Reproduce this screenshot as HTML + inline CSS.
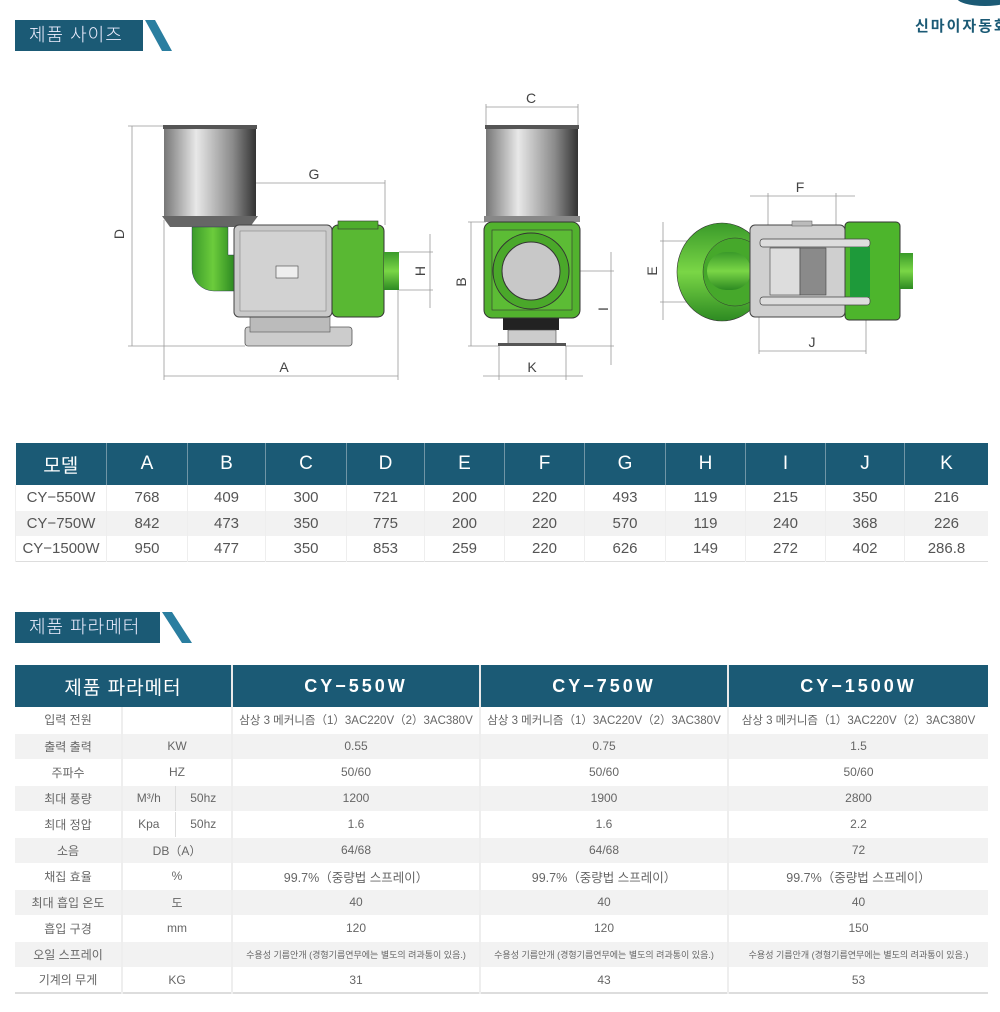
<!DOCTYPE html>
<html><head><meta charset="utf-8"><style>
*{margin:0;padding:0;box-sizing:border-box}
body{width:1000px;height:1012px;background:#fff;position:relative;overflow:hidden;font-family:"Liberation Sans","Noto Sans CJK KR",sans-serif;color:#555}
.hd{position:absolute;background:#1b5a75;color:#eef;font-size:18px;line-height:30px;padding-left:14px;letter-spacing:1px;font-weight:300}
table{position:absolute;border-collapse:collapse;table-layout:fixed}
td{text-align:center;padding:0;overflow:hidden;white-space:nowrap}
#t1 th{background:#1b5a75;color:#fff;font-weight:normal;font-size:19px;height:42px;border-left:1px solid #6f95a6}
#t1 td{height:25.5px;font-size:15px;color:#555;border-left:1px solid #eee}
#t1 tr.g td{background:#f2f2f2}
#t1{border-bottom:1px solid #ddd}
#t2 th{background:#1b5a75;color:#fff;font-size:18px;height:42px;border-left:2px solid #eaeaea}
#t2 td{height:26px;font-size:12px;color:#666;border-left:2px solid #eee;border-bottom:1px solid #fff}
#t2 tr.g td{background:#f2f2f2}
#t2{border-bottom:2px solid #ddd}
</style></head><body>
<div class="hd" style="left:15px;top:20px;width:128px;height:31px">제품 사이즈</div>
<svg style="position:absolute;left:0;top:0" width="1000" height="60"><polygon points="145,20 155,20 172,51 162,51" fill="#2a7ea0"/><ellipse cx="985" cy="-2" rx="28" ry="8" fill="#1b5a75"/></svg>
<div style="position:absolute;left:915px;top:15px;font-size:15px;font-weight:bold;color:#1b5a75;white-space:nowrap;letter-spacing:2px">신마이자동화</div>

<svg style="position:absolute;left:0;top:0" width="1000" height="420" font-family="Liberation Sans, sans-serif" font-size="14" fill="#444">
<defs>
<linearGradient id="cyl" x1="0" x2="1"><stop offset="0" stop-color="#777"/><stop offset=".35" stop-color="#e8e8e8"/><stop offset=".75" stop-color="#8a8a8a"/><stop offset="1" stop-color="#333"/></linearGradient>
<linearGradient id="grn" x1="0" x2="1"><stop offset="0" stop-color="#3a9a2a"/><stop offset=".5" stop-color="#6ccc3c"/><stop offset="1" stop-color="#2d8a22"/></linearGradient>
<linearGradient id="grnv" x1="0" y1="0" x2="0" y2="1"><stop offset="0" stop-color="#3a9a2a"/><stop offset=".5" stop-color="#7ad646"/><stop offset="1" stop-color="#2d8a22"/></linearGradient>
</defs>
<g stroke="#999" stroke-width="0.8" fill="none">
<line x1="132" y1="126" x2="132" y2="346"/><line x1="128" y1="126" x2="164" y2="126"/><line x1="128" y1="346" x2="245" y2="346"/>
<line x1="164" y1="376" x2="398" y2="376"/><line x1="164" y1="220" x2="164" y2="380"/><line x1="398" y1="290" x2="398" y2="380"/>
<line x1="240" y1="183" x2="385" y2="183"/><line x1="385" y1="180" x2="385" y2="225"/>
<line x1="430" y1="234" x2="430" y2="308"/><line x1="399" y1="252" x2="433" y2="252"/><line x1="399" y1="290" x2="433" y2="290"/>
<line x1="486" y1="107" x2="578" y2="107"/><line x1="486" y1="104" x2="486" y2="126"/><line x1="578" y1="104" x2="578" y2="126"/>
<line x1="471" y1="222" x2="471" y2="346"/><line x1="468" y1="222" x2="486" y2="222"/><line x1="468" y1="346" x2="498" y2="346"/>
<line x1="611" y1="252" x2="611" y2="365"/><line x1="531" y1="271" x2="614" y2="271"/><line x1="565" y1="346" x2="614" y2="346"/>
<line x1="483" y1="376" x2="583" y2="376"/><line x1="499" y1="346" x2="499" y2="380"/><line x1="566" y1="346" x2="566" y2="380"/>
<line x1="750" y1="196" x2="855" y2="196"/><line x1="768" y1="193" x2="768" y2="240"/><line x1="836" y1="193" x2="836" y2="240"/>
<line x1="759" y1="351" x2="866" y2="351"/><line x1="759" y1="310" x2="759" y2="354"/><line x1="866" y1="310" x2="866" y2="354"/>
<line x1="663" y1="222" x2="663" y2="320"/><line x1="660" y1="241" x2="760" y2="241"/><line x1="660" y1="302" x2="760" y2="302"/>
</g>
<text x="284" y="372" text-anchor="middle">A</text>
<text x="314" y="179" text-anchor="middle">G</text>
<text x="531" y="103" text-anchor="middle">C</text>
<text x="532" y="372" text-anchor="middle">K</text>
<text x="800" y="192" text-anchor="middle">F</text>
<text x="812" y="347" text-anchor="middle">J</text>
<text transform="translate(124,234) rotate(-90)" text-anchor="middle">D</text>
<text transform="translate(425,271) rotate(-90)" text-anchor="middle">H</text>
<text transform="translate(466,282) rotate(-90)" text-anchor="middle">B</text>
<text transform="translate(608,309) rotate(-90)" text-anchor="middle">I</text>
<text transform="translate(657,271) rotate(-90)" text-anchor="middle">E</text>

<rect x="164" y="126" width="92" height="92" fill="url(#cyl)"/>
<rect x="163" y="125" width="94" height="4" fill="#555"/>
<polygon points="162,216 258,216 250,227 170,227" fill="#666"/>
<path d="M192,227 h36 v28 h6 v36 h-20 a22,22 0 0 1 -22,-22 z" fill="url(#grn)" stroke="#225" stroke-width=".4"/>
<rect x="245" y="327" width="107" height="19" rx="3" fill="#ccc" stroke="#555" stroke-width=".8"/>
<rect x="250" y="314" width="80" height="18" fill="#bbb" stroke="#555" stroke-width=".6"/>
<rect x="234" y="225" width="98" height="92" rx="5" fill="#c9c9c9" stroke="#444" stroke-width="1"/>
<rect x="240" y="231" width="86" height="80" fill="#d2d2d2" stroke="#777" stroke-width=".5"/>
<rect x="276" y="266" width="22" height="12" fill="#eee" stroke="#444" stroke-width=".6"/>
<rect x="332" y="225" width="52" height="92" rx="6" fill="#59b833" stroke="#333" stroke-width="1"/>
<rect x="338" y="221" width="40" height="8" fill="#4fae2d" stroke="#333" stroke-width=".6"/>
<rect x="384" y="252" width="15" height="38" fill="url(#grnv)"/>
<rect x="486" y="126" width="92" height="92" fill="url(#cyl)"/>
<rect x="485" y="125" width="94" height="4" fill="#555"/>
<rect x="484" y="216" width="96" height="6" fill="#888"/>
<rect x="503" y="316" width="56" height="14" fill="#222"/>
<rect x="508" y="330" width="48" height="14" fill="#ccc" stroke="#444" stroke-width=".6"/>
<rect x="498" y="343" width="68" height="3" fill="#555"/>
<rect x="484" y="222" width="96" height="96" rx="8" fill="#52b22e" stroke="#333" stroke-width="1"/>
<rect x="492" y="230" width="80" height="80" fill="#5cbc35" stroke="#333" stroke-width=".6"/>
<circle cx="531" cy="271" r="38" fill="#4aa82a" stroke="#333" stroke-width="1"/>
<circle cx="531" cy="271" r="29" fill="#c8c8c8" stroke="#333" stroke-width="1"/>
<ellipse cx="722" cy="272" rx="45" ry="49" fill="url(#grnv)" stroke="#333" stroke-width=".6"/>
<ellipse cx="735" cy="272" rx="32" ry="34" fill="#46a82b" stroke="#333" stroke-width=".5"/>
<rect x="707" y="252" width="44" height="38" rx="19" fill="url(#grnv)"/>
<rect x="845" y="222" width="55" height="98" rx="4" fill="#4db52c" stroke="#333" stroke-width="1"/>
<rect x="900" y="253" width="13" height="36" fill="url(#grnv)"/>
<rect x="750" y="225" width="95" height="92" rx="5" fill="#cfcfcf" stroke="#444" stroke-width="1"/>
<rect x="792" y="221" width="20" height="5" fill="#bbb" stroke="#555" stroke-width=".5"/>
<rect x="760" y="239" width="110" height="8" rx="3" fill="#ddd" stroke="#444" stroke-width=".7"/>
<rect x="760" y="297" width="110" height="8" rx="3" fill="#ddd" stroke="#444" stroke-width=".7"/>
<rect x="770" y="248" width="30" height="47" fill="#ddd" stroke="#444" stroke-width=".6"/>
<rect x="800" y="248" width="26" height="47" fill="#8a8a8a" stroke="#444" stroke-width=".6"/>
<rect x="850" y="247" width="20" height="50" fill="#1e9a3a"/>
</svg>

<table id="t1" style="left:15px;top:443px;width:973px">
<colgroup><col style="width:91px"><col style="width:81px"><col style="width:78px"><col style="width:81px"><col style="width:78px"><col style="width:80px"><col style="width:80px"><col style="width:81px"><col style="width:80px"><col style="width:80px"><col style="width:79px"><col></colgroup>
<tr><th style="border-left:none">모델</th><th>A</th><th>B</th><th>C</th><th>D</th><th>E</th><th>F</th><th>G</th><th>H</th><th>I</th><th>J</th><th>K</th></tr>
<tr><td>CY−550W</td><td>768</td><td>409</td><td>300</td><td>721</td><td>200</td><td>220</td><td>493</td><td>119</td><td>215</td><td>350</td><td>216</td></tr>
<tr class="g"><td>CY−750W</td><td>842</td><td>473</td><td>350</td><td>775</td><td>200</td><td>220</td><td>570</td><td>119</td><td>240</td><td>368</td><td>226</td></tr>
<tr><td>CY−1500W</td><td>950</td><td>477</td><td>350</td><td>853</td><td>259</td><td>220</td><td>626</td><td>149</td><td>272</td><td>402</td><td>286.8</td></tr>
</table>

<div class="hd" style="left:15px;top:612px;width:145px;height:31px">제품 파라메터</div>
<svg style="position:absolute;left:0;top:600px" width="220" height="50"><polygon points="162,12 172,12 192,43 182,43" fill="#2a7ea0"/></svg>

<table id="t2" style="left:15px;top:665px;width:973px">
<colgroup><col style="width:107px"><col style="width:53px"><col style="width:57px"><col style="width:248px"><col style="width:248px"><col></colgroup>
<tr><th colspan="3" style="border-left:none;font-weight:normal;font-size:19px;letter-spacing:1px">제품 파라메터</th><th style="letter-spacing:3px">CY−550W</th><th style="letter-spacing:3px">CY−750W</th><th style="letter-spacing:3px">CY−1500W</th></tr>
<tr><td style="border-left:none">입력 전원</td><td colspan="2"></td><td style="font-size:11.5px">삼상 3 메커니즘（1）3AC220V（2）3AC380V</td><td style="font-size:11.5px">삼상 3 메커니즘（1）3AC220V（2）3AC380V</td><td style="font-size:11.5px">삼상 3 메커니즘（1）3AC220V（2）3AC380V</td></tr>
<tr class="g"><td style="border-left:none">출력 출력</td><td colspan="2">KW</td><td>0.55</td><td>0.75</td><td>1.5</td></tr>
<tr><td style="border-left:none">주파수</td><td colspan="2">HZ</td><td>50/60</td><td>50/60</td><td>50/60</td></tr>
<tr class="g"><td style="border-left:none">최대 풍량</td><td>M³/h</td><td style="border-left:1px solid #ddd">50hz</td><td>1200</td><td>1900</td><td>2800</td></tr>
<tr><td style="border-left:none">최대 정압</td><td>Kpa</td><td style="border-left:1px solid #ddd">50hz</td><td>1.6</td><td>1.6</td><td>2.2</td></tr>
<tr class="g"><td style="border-left:none">소음</td><td colspan="2">DB（A）</td><td>64/68</td><td>64/68</td><td>72</td></tr>
<tr><td style="border-left:none">채집 효율</td><td colspan="2">%</td><td style="font-size:12.5px">99.7%（중량법 스프레이）</td><td style="font-size:12.5px">99.7%（중량법 스프레이）</td><td style="font-size:12.5px">99.7%（중량법 스프레이）</td></tr>
<tr class="g"><td style="border-left:none">최대 흡입 온도</td><td colspan="2">도</td><td>40</td><td>40</td><td>40</td></tr>
<tr><td style="border-left:none">흡입 구경</td><td colspan="2">mm</td><td>120</td><td>120</td><td>150</td></tr>
<tr class="g"><td style="border-left:none">오일 스프레이</td><td colspan="2"></td><td style="font-size:9px">수용성 기름안개 (경형기름연무에는 별도의 려과통이 있음.)</td><td style="font-size:9px">수용성 기름안개 (경형기름연무에는 별도의 려과통이 있음.)</td><td style="font-size:9px">수용성 기름안개 (경형기름연무에는 별도의 려과통이 있음.)</td></tr>
<tr><td style="border-left:none">기계의 무게</td><td colspan="2">KG</td><td>31</td><td>43</td><td>53</td></tr>
</table>
</body></html>
